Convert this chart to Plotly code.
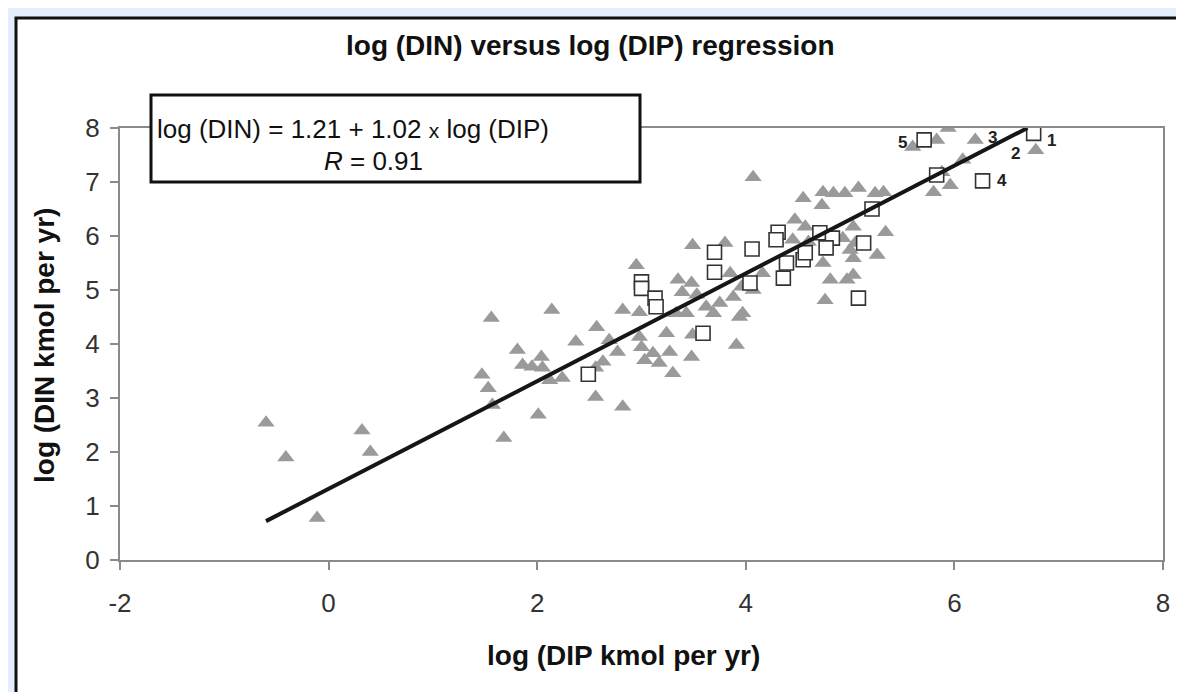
import plotly.graph_objects as go

# ---------------- data ----------------
tri_x = [-0.6, -0.41, -0.11, 0.32, 0.4,
         1.47, 1.53, 1.56, 1.57, 1.68, 1.81, 1.86, 1.95, 2.04, 2.05, 2.12, 2.24, 2.01, 2.14, 2.37,
         2.56, 2.82, 2.57, 2.69, 2.77, 2.63, 2.56, 2.82, 2.98, 2.95, 2.98, 3.0, 3.03, 3.11, 3.17,
         3.24, 3.27, 3.30, 3.33, 3.43, 3.49, 3.48, 3.62, 3.69, 3.75, 3.94, 3.91, 3.35, 3.48, 3.39,
         3.53, 3.85, 3.88, 3.96, 3.49, 3.80, 3.97, 4.16, 4.07,
         4.07, 4.55, 4.73, 4.74, 4.84, 4.95, 5.08, 5.24, 5.32, 5.80, 5.96, 4.47, 4.57, 4.45, 4.6,
         4.71, 4.93, 5.03, 5.05, 5.0, 5.34, 5.26, 5.03, 4.74, 4.81, 4.97, 5.03, 4.76,
         6.78, 6.2, 5.94, 5.83, 5.6, 6.08, 5.88]
tri_y = [2.54, 1.9, 0.78, 2.4, 2.0,
         3.43, 3.18, 4.48, 2.87, 2.26, 3.89, 3.61, 3.58, 3.76, 3.56, 3.33, 3.37, 2.69, 4.63, 4.04,
         3.02, 2.84, 4.31, 4.07, 3.85, 3.67, 3.56, 4.63, 4.59, 5.46, 4.13, 3.94, 3.7, 3.83, 3.65,
         4.2, 3.85, 3.46, 4.57, 4.57, 4.17, 3.76, 4.69, 4.57, 4.76, 4.5, 3.98, 5.19, 5.13, 4.96,
         4.91, 5.31, 4.87, 5.06, 5.83, 5.87, 4.57, 5.31, 5.0,
         7.09, 6.7, 6.57, 6.81, 6.79, 6.79, 6.89, 6.79, 6.81, 6.81, 6.94, 6.3, 6.17, 5.93, 5.89,
         6.02, 5.96, 6.17, 5.87, 5.74, 6.07, 5.65, 5.59, 5.5, 5.19, 5.19, 5.28, 4.81,
         7.59, 7.78, 8.0, 7.78, 7.65, 7.41, 7.18]

sq_x = [2.49, 3.0, 3.0, 3.13, 3.14, 3.59, 3.70, 3.70, 4.06, 4.04, 4.31, 4.29, 4.39, 4.55,
        4.57, 4.71, 4.83, 4.77, 5.13, 4.36, 5.08, 5.21, 5.83, 6.27, 5.71, 6.76]
sq_y = [3.44, 5.15, 5.03, 4.85, 4.69, 4.2, 5.70, 5.33, 5.76, 5.13, 6.07, 5.93, 5.5, 5.56,
        5.69, 6.06, 5.96, 5.78, 5.87, 5.22, 4.85, 6.5, 7.13, 7.02, 7.78, 7.9]

fit_x = [-0.6, 6.7]
fit_y = [0.72, 8.0]

label_text = ["1", "2", "3", "4", "5"]
label_x = [6.76, 6.78, 6.2, 6.27, 5.71]
label_y = [7.9, 7.59, 7.78, 7.02, 7.78]
label_dx = [18, -20, 17, 19, -22]
label_dy = [-7, -3, 2, 0, -3]

x_ticks = [-2, 0, 2, 4, 6, 8]
x_ticktext = ["-2", "0", "2", "4", "6", "8"]
y_ticks = [0, 1, 2, 3, 4, 5, 6, 7, 8]

title_text = "log (DIN) versus log (DIP) regression"
x_title = "log (DIP kmol per yr)"
y_title = "log (DIN kmol per yr)"
eq_line1 = "log (DIN) = 1.21 + 1.02 <span style='font-size:21px'>x</span> log (DIP)"
eq_line2 = "<i>R</i> = 0.91"

# ---------------- figure ----------------
W, H = 1184, 692
OFF = 8  # page body margin in the browser
L, R, T, B = 112, 29, 120, 140
pw, ph = W - L - R, H - T - B


def px(xr):
    return (xr - OFF - L) / pw


def py(yr):
    return (H - B - (yr - OFF)) / ph


bold = "Liberation Sans, Arial, sans-serif"
regular = "Liberation Sans, Arial, sans-serif"

fig = go.Figure()
fig.add_trace(go.Scatter(
    x=tri_x, y=tri_y, mode="markers",
    marker=dict(symbol="triangle-up", size=15, color="#9a9a9a", line=dict(width=0)),
    showlegend=False, hoverinfo="x+y"))
fig.add_trace(go.Scatter(
    x=sq_x, y=sq_y, mode="markers",
    marker=dict(symbol="square", size=14, color="white", line=dict(width=1.6, color="#333333")),
    showlegend=False, hoverinfo="x+y"))
fig.add_trace(go.Scatter(
    x=fit_x, y=fit_y, mode="lines",
    line=dict(color="#161616", width=4),
    showlegend=False, hoverinfo="skip"))

annotations = []
for t, lx, ly, dx, dy in zip(label_text, label_x, label_y, label_dx, label_dy):
    annotations.append(dict(x=lx, y=ly, xref="x", yref="y", text=t, showarrow=False,
                            xshift=dx, yshift=dy,
                            font=dict(family=regular, size=17, color="#222222", weight="bold")))

annotations += [
    dict(x=px(590), y=py(45), xref="paper", yref="paper", text=title_text, showarrow=False,
         xanchor="center", yanchor="middle",
         font=dict(family=bold, size=28, color="#111111", weight="bold")),
    dict(x=px(623), y=py(655), xref="paper", yref="paper", text=x_title, showarrow=False,
         xanchor="center", yanchor="middle",
         font=dict(family=bold, size=28, color="#111111", weight="bold")),
    dict(x=px(44), y=py(346), xref="paper", yref="paper", text=y_title, showarrow=False,
         xanchor="center", yanchor="middle", textangle=-90,
         font=dict(family=bold, size=28, color="#111111", weight="bold")),
    dict(x=px(155), y=py(129), xref="paper", yref="paper", text=eq_line1, showarrow=False,
         xanchor="left", yanchor="middle",
         font=dict(family=regular, size=26, color="#111111")),
    dict(x=px(373), y=py(161), xref="paper", yref="paper", text=eq_line2, showarrow=False,
         xanchor="center", yanchor="middle",
         font=dict(family=regular, size=26, color="#111111")),
]

shapes = [
    # outer white panel with black frame
    dict(type="rect", xref="paper", yref="paper", layer="below",
         x0=px(16), x1=px(1180), y0=py(720), y1=py(18),
         fillcolor="white", line=dict(color="#111111", width=3)),
    # equation box
    dict(type="rect", xref="paper", yref="paper", layer="above",
         x0=px(151), x1=px(640), y0=py(182), y1=py(95),
         fillcolor="white", line=dict(color="#111111", width=3)),
]

fig.update_layout(
    width=W, height=H,
    margin=dict(l=L, r=R, t=T, b=B),
    paper_bgcolor="#e4eefc",
    plot_bgcolor="rgba(0,0,0,0)",
    shapes=shapes,
    annotations=annotations,
    showlegend=False,
)
fig.update_xaxes(range=[-2, 8], tickvals=x_ticks, ticktext=x_ticktext,
                 showgrid=False, zeroline=False,
                 showline=True, linecolor="#8a8a8a", linewidth=2, mirror=True,
                 ticks="outside", ticklen=8, tickcolor="#8a8a8a", tickwidth=2,
                 ticklabelstandoff=11,
                 tickfont=dict(family=regular, size=26, color="#333333"))
fig.update_yaxes(range=[0, 8], tickvals=y_ticks, showgrid=False, zeroline=False,
                 showline=True, linecolor="#8a8a8a", linewidth=2, mirror=True,
                 ticks="outside", ticklen=8, tickcolor="#8a8a8a", tickwidth=2,
                 ticklabelstandoff=5,
                 tickfont=dict(family=regular, size=26, color="#333333"))

fig.write_html("out.html")
